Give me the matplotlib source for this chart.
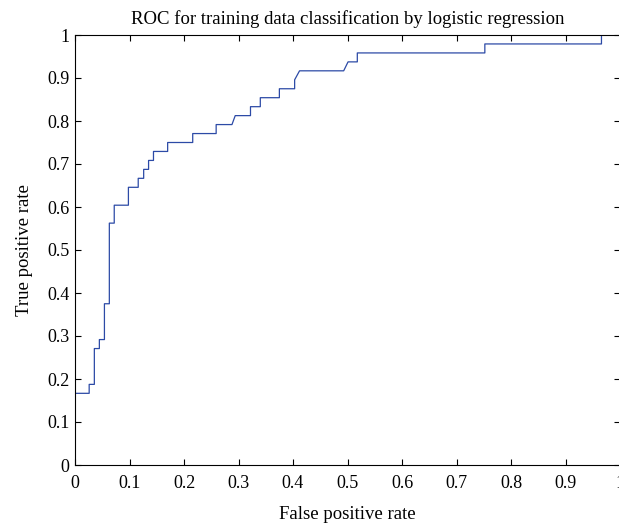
import numpy as np
import matplotlib
matplotlib.use("Agg")
import matplotlib.pyplot as plt

# ROC curve vertices
fpr = [0, 0, 0.026, 0.026, 0.0355, 0.0355, 0.0447, 0.0447, 0.054, 0.054,
       0.063, 0.063, 0.072, 0.072, 0.098, 0.098, 0.116, 0.116, 0.126, 0.126,
       0.135, 0.135, 0.144, 0.144, 0.170, 0.170, 0.216, 0.216, 0.259, 0.259,
       0.288, 0.294, 0.322, 0.322, 0.340, 0.340, 0.375, 0.375, 0.403, 0.403,
       0.412, 0.493, 0.501, 0.518, 0.518, 0.752, 0.752, 0.966, 0.966, 1.0]
tpr = [0, 0.1667, 0.1667, 0.1875, 0.1875, 0.2708, 0.2708, 0.2917, 0.2917, 0.375,
       0.375, 0.5625, 0.5625, 0.6042, 0.6042, 0.6458, 0.6458, 0.6667, 0.6667, 0.6875,
       0.6875, 0.7083, 0.7083, 0.7292, 0.7292, 0.75, 0.75, 0.7708, 0.7708, 0.7917,
       0.7917, 0.8125, 0.8125, 0.8333, 0.8333, 0.8542, 0.8542, 0.875, 0.875, 0.8958,
       0.9167, 0.9167, 0.9375, 0.9375, 0.9583, 0.9583, 0.9792, 0.9792, 1.0, 1.0]

ticks = np.round(np.arange(0, 1.01, 0.1), 1)
tick_labels = ["0", "0.1", "0.2", "0.3", "0.4", "0.5", "0.6", "0.7", "0.8", "0.9", "1"]

plt.rcParams['font.family'] = ['Liberation Serif', 'DejaVu Serif']

fig = plt.figure(figsize=(6.19, 5.29), dpi=100)
ax = fig.add_axes([75/619, 1-465/529, (620-75)/619, (465-35)/529])

ax.plot(fpr, tpr, color='#2c4aa6', lw=0.9)

ax.set_xlim(0, 1)
ax.set_ylim(0, 1)
ax.set_xticks(ticks)
ax.set_xticklabels(tick_labels)
ax.set_yticks(ticks)
ax.set_yticklabels(tick_labels)
ax.tick_params(axis='both', direction='in', length=4, width=0.8, labelsize=13,
               top=True, right=True)
ax.tick_params(axis='x', pad=7)
ax.tick_params(axis='y', pad=4)
for s in ax.spines.values():
    s.set_linewidth(0.8)

ax.set_title('ROC for training data classification by logistic regression', fontsize=13.5, pad=8)
ax.set_xlabel('False positive rate', fontsize=13.5, labelpad=10)
ax.set_ylabel('True positive rate', fontsize=13.5, labelpad=10)

fig.savefig("out.png", dpi=100)
